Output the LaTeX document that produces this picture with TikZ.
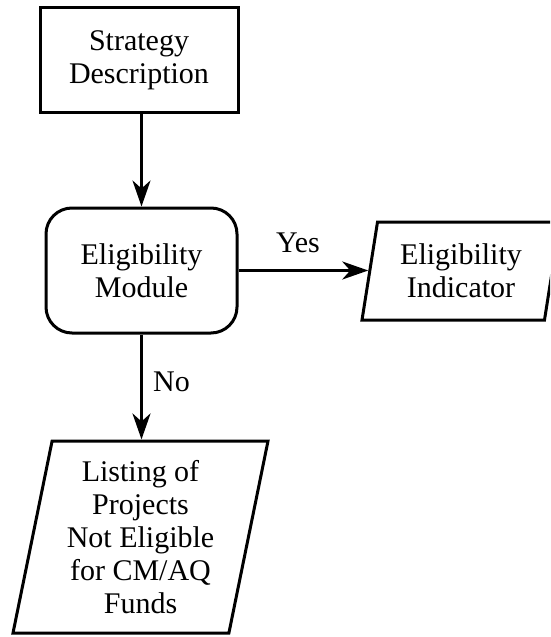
\documentclass[tikz,border=0pt]{standalone}
\usepackage{fontspec}
\setmainfont{Liberation Serif}
\usetikzlibrary{arrows.meta,shapes.geometric}

\tikzset{
  every node/.style={font=\fontsize{30}{33}\selectfont, align=center, inner sep=0pt},
  outline/.style={draw=black, line width=3pt},
  procbox/.style={outline, rectangle, minimum width=198pt, minimum height=105pt},
  modulebox/.style={outline, rectangle, rounded corners=26pt, minimum width=191pt, minimum height=125pt},
  iobox/.style={outline, trapezium, trapezium stretches body,
    trapezium left angle=#1, trapezium right angle=180-#1},
  flow/.style={line width=3pt, -{Stealth[length=26pt,width=18pt,inset=8pt]}},
  tag/.style={font=\fontsize{30}{33}\selectfont}
}

\begin{document}
\begin{tikzpicture}[x=1pt, y=-1pt]
  \useasboundingbox (0,0) rectangle (550,637);
  \clip (0,0) rectangle (550,637);

  % blocks
  \node[procbox] (strat) at (139,60) {Strategy\\Description};
  \node[modulebox] (mod) at (141.5,270.5) {Eligibility\\Module};
  \node[iobox=74, minimum width=198pt, minimum height=98pt] (ind) at (461,271)
    {Eligibility\\Indicator};
  \node[iobox=75.7, minimum width=255pt, minimum height=192pt] (list) at (140.5,537)
    {Listing of\\Projects\\Not Eligible\\for CM/AQ\\Funds};

  % connectors
  \draw[flow] (strat.south -| mod.north) -- (mod.north);
  \draw[flow] (mod.east) -- (mod.east -| ind.west);
  \draw[flow] (mod.south) -- (mod.south |- list.north);

  % branch labels
  \node[tag] (yes) at (298,243) {Yes};
  \node[tag] (no) at (171.5,382) {No};
\end{tikzpicture}
\end{document}
